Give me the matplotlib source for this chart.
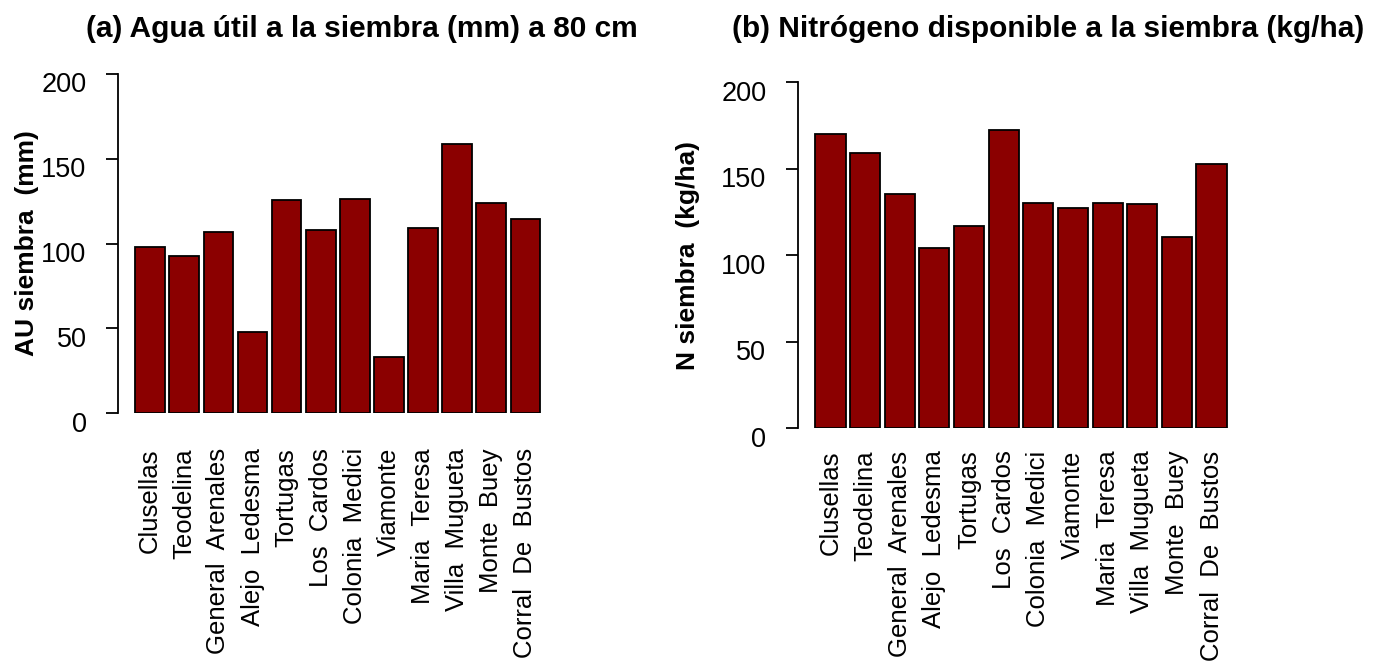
import matplotlib
matplotlib.use("Agg")
import matplotlib.pyplot as plt
import matplotlib.transforms as mtransforms

plt.rcParams['font.family'] = ['Liberation Sans', 'DejaVu Sans']

sitios = ['Clusellas', 'Teodelina', 'General  Arenales', 'Alejo  Ledesma',
          'Tortugas', 'Los  Cardos', 'Colonia  Medici', 'Viamonte',
          'Maria  Teresa', 'Villa  Mugueta', 'Monte  Buey', 'Corral  De  Bustos']

# agua util a la siembra (mm), 0-80 cm
agua_util = [98, 92.5, 107, 48, 126, 108, 126.5, 33, 109, 159, 124, 114.5]

# nitrogeno disponible a la siembra (kg/ha)
n_siembra = [170, 159, 135.5, 104.5, 117, 172.5, 130, 127.5, 130, 129.5, 110.5, 152.5]

yticks = [0, 50, 100, 150, 200]

fig = plt.figure(figsize=(13.89, 6.62), dpi=100)

ax1 = fig.add_axes([0.0853, 0.3757, 0.3175, 0.5125])
ax2 = fig.add_axes([0.5747, 0.3530, 0.3225, 0.5227])


def barplot(ax, valores, label_pad):
    x = range(len(valores))
    ax.bar(x, valores, width=0.87, color='#8B0000', edgecolor='black', linewidth=1.3)
    ax.set_ylim(0, 200)
    ax.set_xlim(-0.93, 12.0)
    ax.set_yticks(yticks)
    ax.set_yticklabels([str(v) for v in yticks])
    ax.set_xticks(list(x))
    ax.set_xticklabels(sitios, rotation=90, fontsize=18.5)
    for s in ['top', 'right', 'bottom']:
        ax.spines[s].set_visible(False)
    ax.spines['left'].set_linewidth(1.3)
    ax.tick_params(axis='y', length=9, width=1.3, pad=14, labelsize=19.5)
    ax.tick_params(axis='x', length=0, pad=label_pad)
    # R-style: numbers sit a bit below their ticks
    off = mtransforms.ScaledTranslation(0, -6 / 72, fig.dpi_scale_trans)
    for t in ax.get_yticklabels():
        t.set_transform(t.get_transform() + off)


barplot(ax1, agua_util, 25)
barplot(ax2, n_siembra, 16)

fig.text(362 / 1389, 1 - 37 / 662, '(a) Agua útil a la siembra (mm) a 80 cm',
         ha='center', va='baseline', fontsize=21.5, fontweight='bold')
fig.text(1048 / 1389, 1 - 37 / 662, '(b) Nitrógeno disponible a la siembra (kg/ha)',
         ha='center', va='baseline', fontsize=21.5, fontweight='bold')

fig.text(27 / 1389, 1 - 243 / 662, 'AU siembra  (mm)', rotation=90,
         ha='center', va='center', fontsize=19, fontweight='bold')
fig.text(688 / 1389, 1 - 255 / 662, 'N siembra  (kg/ha)', rotation=90,
         ha='center', va='center', fontsize=19, fontweight='bold')

fig.savefig('out.png', dpi=100)
